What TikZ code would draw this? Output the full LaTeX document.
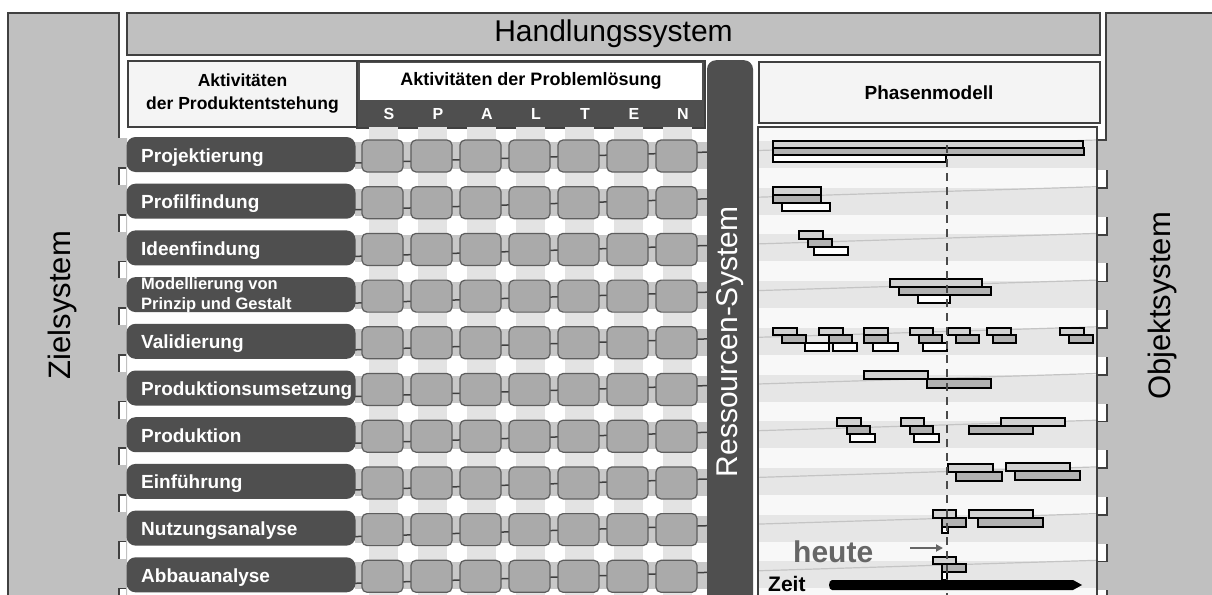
\documentclass[tikz,border=0pt]{standalone}
\usepackage{fontspec}
\setmainfont{Liberation Sans}
\usetikzlibrary{arrows.meta}
\definecolor{frame}{HTML}{C0C0C0}
\definecolor{edge}{HTML}{404040}
\definecolor{pill}{HTML}{4F4F4F}
\definecolor{cellfill}{HTML}{AAAAAA}
\definecolor{celledge}{HTML}{5E5E5E}
\definecolor{head}{HTML}{F4F4F4}
\definecolor{stripe}{HTML}{E3E3E3}
\definecolor{band}{HTML}{C8C8C8}
\definecolor{phlight}{HTML}{F8F8F8}
\definecolor{phband}{HTML}{E6E6E6}
\definecolor{faint}{HTML}{C4C4C4}
\definecolor{barL}{HTML}{D2D2D2}
\definecolor{barM}{HTML}{B2B2B2}
\definecolor{heutegray}{HTML}{666666}
\definecolor{dashgray}{HTML}{4A4A4A}
\begin{document}
\begin{tikzpicture}[x=1pt,y=-1pt,
  edgeline/.style={draw=edge,line width=2pt},
  headbox/.style={draw=edge,line width=2pt,fill=head,inner sep=0pt},
  pillbox/.style={fill=pill,rounded corners=9pt,minimum width=229pt,minimum height=35pt,inner sep=0pt},
  cellbox/.style={fill=cellfill,draw=celledge,line width=1.2pt,rounded corners=5pt,minimum width=41pt,minimum height=32pt,inner sep=0pt},
  conn/.style={draw=edge,line width=1.5pt},
  faintline/.style={draw=faint,line width=1.2pt},
  pillfont/.style={text=white,font=\fontsize{19}{22}\selectfont\bfseries,inner sep=0pt,align=left},
  bigfont/.style={font=\fontsize{30}{36}\selectfont,inner sep=0pt},
  headfont/.style={font=\fontsize{17.5}{23}\selectfont\bfseries,inner sep=0pt,align=center},
  letterfont/.style={text=white,font=\fontsize{16}{18}\selectfont\bfseries,inner sep=0pt},
  ganttL/.style={fill=barL,draw=black,line width=1.8pt},
  ganttM/.style={fill=barM,draw=black,line width=1.8pt},
  ganttW/.style={fill=white,draw=black,line width=1.8pt},
  notchline/.style={draw=edge,line width=1.6pt}
]
\useasboundingbox (0,0) rectangle (1212,594);
\fill[white] (0,0) rectangle (1212,594);

% Zielsystem
\fill[frame] (8,13) -- (119,13) -- (119,138) -- (127,138) -- (127,600) -- (8,600) -- cycle;
\draw[edgeline] (8,600) -- (8,13) -- (119,13) -- (119,138);
\node[bigfont,rotate=90,font=\fontsize{31}{36}\selectfont] (zs) at (62,305) {Zielsystem};

% Objektsystem
\fill[frame] (1106,13) -- (1220,13) -- (1220,600) -- (1097,600) -- (1097,140) -- (1106,140) -- cycle;
\draw[edgeline] (1220,13) -- (1106,13) -- (1106,140) -- (1097,140);
\node[bigfont,rotate=90,font=\fontsize{31}{36}\selectfont] (os) at (1162,306) {Objektsystem};

% Handlungssystem
\node[draw=edge,line width=2pt,fill=frame,minimum width=973pt,minimum height=42pt,bigfont] (hs) at (613.5,34) {Handlungssystem};

% headers
\node[headbox,minimum width=229pt,minimum height=66pt,headfont] (apt) at (242.5,94) {Aktivit\"aten\\der Produktentstehung};
\node[draw=edge,line width=2pt,fill=pill,minimum width=348pt,minimum height=67pt,inner sep=0pt] (apl) at (531,94.5) {};
\fill[white] (360,63) rectangle (702,100);
\node[headfont,font=\fontsize{18}{22}\selectfont\bfseries] (aplt) at (531,81) {Aktivit\"aten der Probleml\"osung};
\foreach \L [count=\j] in {S,P,A,L,T,E,N}
  \node[letterfont] (let\j) at ({389+49*(\j-1)},114) {\L};
\node[headbox,minimum width=341pt,minimum height=61pt,font=\fontsize{19}{22}\selectfont\bfseries] (pm) at (929,92.5) {Phasenmodell};

% grid background
\foreach \j in {1,...,7}
  \fill[stripe] ({369+49*(\j-1)},127) rectangle ({398+49*(\j-1)},600);
\foreach \i in {1,...,10}{
  \pgfmathsetmacro\c{155+46.7*(\i-1)}
  \fill[band] (355,\c-13) rectangle (707,\c+14);
}

% phase area background
\fill[phlight] (758,127) rectangle (1097,600);
\foreach \i in {1,...,10}{
  \pgfmathsetmacro\c{155+46.7*(\i-1)}
  \fill[phband] (758,\c-14) rectangle (1097,\c+13);
  \coordinate (pl\i) at (758,\c-4.5);
  \coordinate (pr\i) at (1097,\c-15);
  \draw[faintline] (pl\i) -- (pr\i);
}
\draw[draw=edge,line width=1.3pt] (758,600) -- (758,127) -- (1097,127) -- (1097,600);

% rows
\foreach \i in {1,...,10}{
  \pgfmathsetmacro\c{155+46.7*(\i-1)}
  \coordinate (l\i) at (355,\c+8);
  \coordinate (r\i) at (707,\c-2.9);
  \draw[conn] (l\i) -- (r\i);
  \node[pillbox] (p\i) at (241,\c-0.5) {};
  \foreach \j in {1,...,7}
    \node[cellbox] (c\i-\j) at ({382.5+49*(\j-1)},\c+1) {};
}
\foreach \i/\t in {1/Projektierung,2/Profilfindung,3/Ideenfindung,5/Validierung,6/Produktionsumsetzung,7/Produktion,8/Einf\"uhrung,9/Nutzungsanalyse,10/Abbauanalyse}{
  \pgfmathsetmacro\c{155+46.7*(\i-1)}
  \node[pillfont,anchor=base west] (t\i) at (141,\c+7) {\t};
}
\node[pillfont,anchor=west,font=\fontsize{16.5}{19.5}\selectfont\bfseries] (t4) at (141,295.1) {Modellierung von\\Prinzip und Gestalt};

% Ressourcen bar
\node[fill=pill,rounded corners=9pt,minimum width=46pt,minimum height=560pt,anchor=north,inner sep=0pt] (rs) at (730,60) {};
\node[bigfont,rotate=90,text=white,font=\fontsize{30}{36}\selectfont] (rst) at (730,342) {Ressourcen-System};

% notches
\foreach \i in {1,...,10}{
  \pgfmathsetmacro\c{155+46.7*(\i-1)}
  \fill[white] (119,\c+13) rectangle (126,\c+30);
  \draw[notchline] (126,\c+13) -- (119,\c+13) -- (119,\c+30);
  \fill[white] (1097.6,\c+15) rectangle (1107,\c+33);
  \draw[notchline] (1097,\c+33) -- (1107,\c+33) -- (1107,\c+15);
}

% Gantt bars
\foreach \a/\b/\cc/\d in {773/141/1083/148, 773/187/821/195, 799/231/823/239, 890/279/982/287,
  773/328/797/335, 819/328/843/335, 864/328/888/335, 910/328/933/335, 948/328/970/335, 987/328/1011/335, 1060/328/1084/335,
  864/371/928/379, 837/418/861/426, 901/418/924/426, 1001/418/1065/426,
  948/464/993/472, 1006/463/1070/471, 933/510/956/518, 969/510/1033/518, 933/557/956/564}
  \draw[ganttL] (\a,\b) rectangle (\cc,\d);
\foreach \a/\b/\cc/\d in {773/148/1084/155, 773/195/821/203, 808/239/832/247, 899/287/991/295,
  782/335/806/343, 829/335/852/343, 864/335/888/343, 919/335/942/343, 956/335/979/343, 993/335/1016/343, 1069/335/1093/343,
  927/379/991/388, 847/426/870/434, 910/426/933/434, 969/426/1033/434,
  956/472/1002/481, 1015/471/1080/480, 942/518/966/527, 978/518/1043/527, 942/564/966/572}
  \draw[ganttM] (\a,\b) rectangle (\cc,\d);
\foreach \a/\b/\cc/\d in {773/155/946/162, 782/203/830/211, 814/247/848/255, 918/295/950/303,
  805/343/829/351, 833/343/857/351, 873/343/898/351, 923/343/947/351,
  850/434/875/442, 914/434/939/442, 942/527/948/533, 942/572/947/580}
  \draw[ganttW] (\a,\b) rectangle (\cc,\d);

% today line
\coordinate (d1) at (947,145);
\coordinate (d2) at (947,600);
\draw[dashgray,line width=2.5pt,dash pattern=on 8pt off 6pt] (d1) -- (d2);

\node[anchor=base west,inner sep=0pt,text=heutegray,font=\fontsize{30}{36}\selectfont\bfseries] (heute) at (793,562) {heute};
\coordinate (ha) at (910,548);
\coordinate (hb) at (943,548);
\draw[heutegray,line width=2pt,-{Triangle[length=7pt,width=7pt]}] (ha) -- (hb);

\node[anchor=base west,inner sep=0pt,font=\fontsize{21}{24}\selectfont\bfseries] (zeit) at (768,591) {Zeit};
\fill[black] (832,580) -- (1073,580) -- (1082,585) -- (1073,590) -- (832,590) to[out=180,in=180] cycle;
\end{tikzpicture}
\end{document}
